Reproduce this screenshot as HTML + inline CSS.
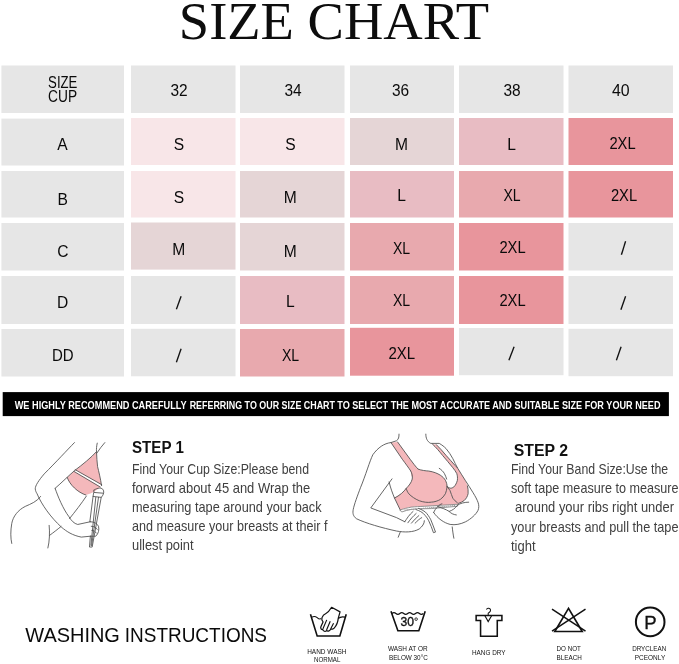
<!DOCTYPE html>
<html><head><meta charset="utf-8"><title>Size Chart</title>
<style>
html,body{margin:0;padding:0;}
body{width:679px;height:664px;position:relative;overflow:hidden;background:#fff;font-family:"Liberation Sans",sans-serif;color:#111;}
svg{position:absolute;left:0;top:0;overflow:visible;will-change:transform}
svg text{font-family:"Liberation Sans",sans-serif;fill:#0a0a0a;}
svg text.p{fill:#404040;}
svg text.b{font-weight:bold;fill:#111;}
svg text.w{font-weight:bold;fill:#fff;}
svg text.t{font-family:"Liberation Serif",serif;fill:#0d0d0d;}
svg text.k{fill:#111;}
svg text.ks{fill:#111;stroke:#111;stroke-width:.35px;}
</style></head><body>
<svg width="679" height="664" viewBox="0 0 679 664">
<rect x="1.4" y="65.5" width="122.6" height="47.5" fill="#e6e6e6"/>
<rect x="131" y="65.5" width="104.5" height="47.5" fill="#e6e6e6"/>
<rect x="240" y="65.5" width="104.5" height="47.5" fill="#e6e6e6"/>
<rect x="350" y="65.5" width="104" height="47.5" fill="#e6e6e6"/>
<rect x="459" y="65.5" width="104.5" height="47.5" fill="#e6e6e6"/>
<rect x="568.5" y="65.5" width="104.5" height="47.5" fill="#e6e6e6"/>
<rect x="1.4" y="118.6" width="122.6" height="46.9" fill="#e6e6e6"/>
<rect x="131" y="118" width="104.5" height="47" fill="#f8e6e8"/>
<rect x="240" y="118" width="104.5" height="47" fill="#f8e6e8"/>
<rect x="350" y="118" width="104" height="47" fill="#e5d5d6"/>
<rect x="459" y="118" width="104.5" height="47" fill="#e8bcc3"/>
<rect x="568.5" y="118" width="104.5" height="47" fill="#e8959c"/>
<rect x="1.4" y="171" width="122.6" height="46.5" fill="#e6e6e6"/>
<rect x="131" y="171" width="104.5" height="46.5" fill="#f8e6e8"/>
<rect x="240" y="171" width="104.5" height="46.5" fill="#e5d5d6"/>
<rect x="350" y="171" width="104" height="46.5" fill="#e8bcc3"/>
<rect x="459" y="171" width="104.5" height="46.5" fill="#e8a9ae"/>
<rect x="568.5" y="171" width="104.5" height="46.5" fill="#e8959c"/>
<rect x="1.4" y="223" width="122.6" height="47.5" fill="#e6e6e6"/>
<rect x="131" y="222.5" width="104.5" height="47.1" fill="#e5d5d6"/>
<rect x="240" y="223" width="104.5" height="47.5" fill="#e5d5d6"/>
<rect x="350" y="223" width="104" height="47.5" fill="#e8a9ae"/>
<rect x="459" y="223" width="104.5" height="47.5" fill="#e8959c"/>
<rect x="568.5" y="223" width="104.5" height="47.5" fill="#e6e6e6"/>
<rect x="1.4" y="276" width="122.6" height="48" fill="#e6e6e6"/>
<rect x="131" y="276" width="104.5" height="48" fill="#e6e6e6"/>
<rect x="240" y="276" width="104.5" height="48" fill="#e8bcc3"/>
<rect x="350" y="276" width="104" height="48" fill="#e8a9ae"/>
<rect x="459" y="276" width="104.5" height="48" fill="#e8959c"/>
<rect x="568.5" y="276" width="104.5" height="48" fill="#e6e6e6"/>
<rect x="1.4" y="329" width="122.6" height="47.5" fill="#e6e6e6"/>
<rect x="131" y="328.8" width="104.5" height="47.5" fill="#e6e6e6"/>
<rect x="240" y="329" width="104.5" height="47.5" fill="#e8a9ae"/>
<rect x="350" y="327.8" width="104" height="47.9" fill="#e8959c"/>
<rect x="459" y="328" width="104.5" height="47.2" fill="#e6e6e6"/>
<rect x="568.5" y="328.8" width="104.5" height="47.4" fill="#e6e6e6"/>
<rect x="2.7" y="392.1" width="666.2" height="24" fill="#000"/>
</svg>

<svg width="679" height="664" viewBox="0 0 679 664">
<g transform="translate(0,435) scale(0.18072)" fill="none" stroke="#4a4a4a" stroke-width="4.6" stroke-linecap="round" stroke-linejoin="round">
<!-- illustration 1 -->
<path d="M534,92 C505,125 455,165 415,195 L372,235 C385,275 430,318 475,332 C510,325 540,305 562,280 C556,240 546,200 540,175 C537,150 535,120 534,92 Z" fill="#f4b8bb" stroke="none"/>
<path d="M416,192 L563,275 L557,288 L410,202 Z" fill="#fff" stroke="none"/>
<path d="M412,42 C370,85 310,150 245,215 C215,250 195,280 195,298 C197,312 201,318 205,325 C230,385 280,455 340,510 C370,535 400,555 450,565 L500,560"/>
<path d="M305,295 C320,340 350,410 380,450 C395,475 410,490 430,495 L500,480"/>
<path d="M305,295 C340,265 380,225 415,195 C455,165 505,125 534,92"/>
<path d="M372,235 C385,275 430,318 475,332"/>
<path d="M416,192 L563,275 M410,202 L555,288"/>
<path d="M538,45 C534,62 533,78 534,92 C535,120 537,150 540,175 C546,200 556,240 562,280"/>
<path d="M580,42 C565,60 548,80 536,100"/>
<path d="M225,340 C205,368 170,382 140,395 C100,415 72,450 65,490 C58,530 58,570 65,600"/>
<path d="M478,338 C450,380 415,425 385,462"/>
<path d="M338,506 C315,525 295,540 275,555"/>
<path d="M272,500 C276,540 274,590 265,625"/>
<path d="M500,480 C520,480 538,490 545,505 C550,525 545,545 530,560 L500,560"/>
<path d="M505,505 C520,505 532,512 538,522 M508,528 C520,528 528,534 532,542"/>
<path d="M520,305 C540,290 565,290 572,305 C578,320 570,335 560,345 L510,620 L495,620 L500,560"/>
<path d="M497,480 L515,340 C518,320 520,312 520,305"/>
<path d="M530,345 L503,610 M545,345 L507,612"/>
<path d="M515,340 L560,345 M522,318 L570,322"/>
</g>
<g transform="translate(345,430) scale(0.20619)" fill="none" stroke="#4a4a4a" stroke-width="4.1" stroke-linecap="round" stroke-linejoin="round">
<!-- illustration 2 -->
<path d="M223,61 L255,58 L316,142 C330,160 342,178 355,190 L370,215 L322,225 L319,199 C310,185 295,165 278,142 Z" fill="#f4b8bb" stroke="none"/>
<path d="M240,330 C265,318 285,300 297,283 L310,310 L360,343 L419,350 L462,337 L487,309 L495,274 L509,293 L523,331 L545,353 L550,356 L548,360 L387,370 C360,371 340,372 322,374 C300,378 285,382 268,388 Z" fill="#f4b8bb" stroke="none"/>
<path d="M424,68 L443,71 C460,87 475,105 490,123 C505,140 520,156 534,172 L545,183 C558,205 571,224 583,244 C587,253 590,262 594,271 C597,283 598,296 597,309 C594,322 588,333 578,342 C570,348 560,353 550,356 L545,353 C537,348 530,340 523,331 C518,319 514,306 509,293 L495,274 C499,277 504,280 509,282 C515,283 522,281 528,276 C536,268 541,258 545,244 C546,233 546,222 542,211 C537,201 530,192 523,183 C507,163 490,143 473,123 C458,104 442,85 424,68 Z" fill="#f4b8bb" stroke="none"/>
<path d="M262,20 C262,35 260,45 250,52 L223,61 C190,65 160,85 135,120 C120,150 100,220 75,280 C60,320 45,360 40,385 C36,405 40,418 55,430 C100,452 180,475 250,490 C290,497 330,497 360,480 C375,468 385,455 385,440"/>
<path d="M392,20 C392,40 398,55 416,65 L457,65 C470,72 482,82 490,90 C503,105 514,122 523,139 C531,155 538,170 545,183 C558,205 571,224 583,244 C596,264 609,284 621,304 C632,322 641,338 646,353 C650,366 650,378 645,390 C635,410 610,432 585,445 C560,457 535,462 510,458 C480,450 450,430 430,400"/>
<path d="M223,61 L278,142 C295,165 310,185 319,199 M255,58 L316,142 C330,160 342,178 355,190"/>
<path d="M355,190 C372,196 390,198 406,199 C430,203 448,210 462,219 C474,227 482,235 487,244 C492,254 495,264 495,274 C494,287 491,299 487,309 C481,320 472,330 462,337 C450,344 435,349 419,350 C400,353 380,350 360,343 C340,335 322,322 310,310 C303,301 299,292 297,283 C310,270 322,255 326,238 C328,225 326,212 319,199" fill="#f4b8bb"/>
<path d="M424,68 C442,85 458,104 473,123 C490,143 507,163 523,183 C530,192 537,201 542,211 C546,222 546,233 545,244 C541,258 536,268 528,276 C522,281 515,283 509,282 C504,280 499,277 495,274"/>
<path d="M443,71 C460,87 475,105 490,123 C505,140 520,156 534,172 L545,183"/>
<path d="M495,274 L509,293 C514,306 518,319 523,331 C530,340 537,348 545,353"/>
<path d="M594,271 C597,283 598,296 597,309 C594,322 588,333 578,342 C570,348 560,353 550,356"/>
<path d="M457,186 C468,193 476,201 482,211 C487,220 490,229 493,238"/>
<path d="M228,237 L125,378 L250,425 L290,445"/>
<path d="M214,252 C220,280 230,305 240,330 L268,388"/>
<path d="M240,330 C265,318 285,300 297,283"/>
<path d="M268,495 L258,520 M520,470 C522,490 525,510 528,525"/>
<path d="M268,388 C285,382 300,378 322,374 C340,372 360,371 387,370 L548,360 L545,370 L419,381 C380,382 345,382 322,385 C305,388 290,392 277,397 Z" fill="#fff" stroke="#666" stroke-width="3.4"/>
<path d="M290,388 L532,366" stroke="#999" stroke-width="5" stroke-dasharray="3 7"/>
<path d="M345,386 C362,392 372,398 380,405 C392,417 400,428 406,440 C415,458 422,478 429,498 L439,495 C432,475 424,455 416,435 C408,420 400,408 390,398 C380,390 368,384 356,380" fill="#fff"/>
<path d="M290,445 C300,430 310,412 330,395 M305,450 C318,432 330,418 345,405 M322,452 C335,438 345,425 358,415 M340,452 C352,440 362,430 372,425"/>
<path d="M430,400 C435,390 440,380 450,372 C470,378 490,385 505,395 C520,390 535,380 545,365 C560,355 580,350 600,350 M450,372 C455,365 462,360 470,358 M505,395 C515,405 525,410 540,412"/>
</g>
</svg>

<svg width="679" height="664" viewBox="0 0 679 664">
<g transform="translate(295,598) scale(0.10309)" fill="none" stroke="#111" stroke-width="15.5" stroke-linecap="butt" stroke-linejoin="miter">
<!-- hand wash -->
<path d="M150,158 L215,368 L435,368 L497,158"/>
<path d="M160,188 C180,175 200,178 215,190 C228,202 240,208 255,200 M418,200 C435,185 460,180 485,186" stroke-width="11"/>
<path d="M355,90 L437,135 L420,195 C416,235 402,268 380,292 C370,304 355,306 348,298 C340,318 320,328 306,316 C294,328 274,324 270,307 C256,308 244,295 252,276 L272,232 C262,222 256,208 262,190 C270,168 285,157 300,150 C325,138 340,115 355,90 Z" stroke-width="12" stroke-linejoin="round" fill="#fff"/>
<path d="M308,212 L270,300 M342,226 L306,310 M374,244 L348,296" stroke-width="11"/>
</g>
<g transform="translate(375,598) scale(0.10309)" fill="none" stroke="#111" stroke-width="15.5">
<!-- wash 30 -->
<path d="M155,128 L222,318 L425,318 L487,128"/>
<path d="M165,150 q19,-17 38,0 t38,0 t38,0 t38,0 t38,0 t38,0 t38,0 t38,0" stroke-width="12"/>
<circle cx="399" cy="205" r="12.5" stroke-width="8"/>
</g>
<g transform="translate(455,598) scale(0.10309)" fill="none" stroke="#111" stroke-width="15">
<!-- hang dry -->
<path d="M205,170 L455,170 L455,218 L410,218 L410,372 L248,372 L248,218 L205,218 Z"/>
<path d="M290,172 L322,228 L355,172" stroke-width="11"/>
<path d="M322,170 L322,148 C345,135 350,118 340,106 C330,96 312,98 305,112" stroke-width="10"/>
</g>
<g transform="translate(535,598) scale(0.10309)" fill="none" stroke="#111" stroke-width="16" stroke-linejoin="miter">
<!-- do not bleach -->
<path d="M325,100 L192,325 L458,325 Z"/>
<path d="M165,108 L490,322 M490,108 L165,322" stroke-width="14.5"/>
</g>
<circle cx="650.2" cy="621.9" r="14.3" fill="none" stroke="#111" stroke-width="2"/>
</svg>

<svg width="679" height="664" viewBox="0 0 679 664">
<text class="t" x="178.8" y="38.9" font-size="53.8" textLength="310.4" lengthAdjust="spacingAndGlyphs">SIZE CHART</text>
<text x="62.75" y="88.2" font-size="15.6" text-anchor="middle" textLength="29.3" lengthAdjust="spacingAndGlyphs">SIZE</text>
<text x="62.6" y="102.4" font-size="15.6" text-anchor="middle" textLength="29.0" lengthAdjust="spacingAndGlyphs">CUP</text>
<text x="179.0" y="96" font-size="15.6" text-anchor="middle" textLength="17.2" lengthAdjust="spacingAndGlyphs">32</text>
<text x="293.0" y="96" font-size="15.6" text-anchor="middle" textLength="17.2" lengthAdjust="spacingAndGlyphs">34</text>
<text x="400.5" y="96" font-size="15.6" text-anchor="middle" textLength="17.2" lengthAdjust="spacingAndGlyphs">36</text>
<text x="512.0" y="96" font-size="15.6" text-anchor="middle" textLength="17.2" lengthAdjust="spacingAndGlyphs">38</text>
<text x="620.75" y="96" font-size="15.6" text-anchor="middle" textLength="17.7" lengthAdjust="spacingAndGlyphs">40</text>
<text x="62.5" y="150" font-size="15.6" text-anchor="middle">A</text>
<text x="179.0" y="150" font-size="15.6" text-anchor="middle">S</text>
<text x="290.5" y="150" font-size="15.6" text-anchor="middle">S</text>
<text x="401.5" y="150" font-size="15.6" text-anchor="middle">M</text>
<text x="511.5" y="150" font-size="15.6" text-anchor="middle">L</text>
<text x="622.5" y="149" font-size="15.6" text-anchor="middle" textLength="26.2" lengthAdjust="spacingAndGlyphs">2XL</text>
<text x="62.75" y="204.5" font-size="15.6" text-anchor="middle">B</text>
<text x="179.0" y="202.5" font-size="15.6" text-anchor="middle">S</text>
<text x="290.25" y="203" font-size="15.6" text-anchor="middle">M</text>
<text x="401.5" y="201" font-size="15.6" text-anchor="middle">L</text>
<text x="512.0" y="201" font-size="15.6" text-anchor="middle" textLength="17.2" lengthAdjust="spacingAndGlyphs">XL</text>
<text x="624.0" y="201" font-size="15.6" text-anchor="middle" textLength="26.2" lengthAdjust="spacingAndGlyphs">2XL</text>
<text x="63.0" y="257" font-size="15.6" text-anchor="middle">C</text>
<text x="178.75" y="254.5" font-size="15.6" text-anchor="middle">M</text>
<text x="290.25" y="256.5" font-size="15.6" text-anchor="middle">M</text>
<text x="401.5" y="254" font-size="15.6" text-anchor="middle" textLength="17.2" lengthAdjust="spacingAndGlyphs">XL</text>
<text x="512.5" y="252.5" font-size="15.6" text-anchor="middle" textLength="26.2" lengthAdjust="spacingAndGlyphs">2XL</text>
<text x="62.75" y="308" font-size="15.6" text-anchor="middle">D</text>
<text x="290.25" y="307" font-size="15.6" text-anchor="middle">L</text>
<text x="401.5" y="306" font-size="15.6" text-anchor="middle" textLength="17.2" lengthAdjust="spacingAndGlyphs">XL</text>
<text x="512.5" y="305.5" font-size="15.6" text-anchor="middle" textLength="26.2" lengthAdjust="spacingAndGlyphs">2XL</text>
<text x="62.75" y="361" font-size="15.6" text-anchor="middle" textLength="21.7" lengthAdjust="spacingAndGlyphs">DD</text>
<text x="290.5" y="360.5" font-size="15.6" text-anchor="middle" textLength="17.2" lengthAdjust="spacingAndGlyphs">XL</text>
<text x="401.75" y="359" font-size="15.6" text-anchor="middle" textLength="26.7" lengthAdjust="spacingAndGlyphs">2XL</text>
<g stroke="#111" stroke-width="1.35"><line x1="621.4" y1="254.7" x2="625.6" y2="241.3"/><line x1="176.4" y1="309.2" x2="181.1" y2="296.3"/><line x1="620.9" y1="309.7" x2="625.6" y2="296.3"/><line x1="176.4" y1="362.2" x2="181.1" y2="348.8"/><line x1="508.9" y1="360.2" x2="514.1" y2="346.8"/><line x1="616.4" y1="360.2" x2="621.1" y2="346.8"/></g>
<text class="w" x="14.7" y="409" font-size="11.3" textLength="172.0" lengthAdjust="spacingAndGlyphs">WE HIGHLY RECOMMEND CAREFULLY</text>
<text class="w" x="189.7" y="409" font-size="11.3" textLength="145.3" lengthAdjust="spacingAndGlyphs">REFERRING TO OUR SIZE CHART</text>
<text class="w" x="337.3" y="409" font-size="11.3" textLength="152.9" lengthAdjust="spacingAndGlyphs">TO SELECT THE MOST ACCURATE</text>
<text class="w" x="492.2" y="409" font-size="11.3" textLength="168.3" lengthAdjust="spacingAndGlyphs">AND SUITABLE SIZE FOR YOUR NEED</text>
<text class="b" x="132" y="453.3" font-size="16.8" textLength="51.8" lengthAdjust="spacingAndGlyphs">STEP 1</text>
<text class="b" x="513.7" y="455.6" font-size="16.8" textLength="54.3" lengthAdjust="spacingAndGlyphs">STEP 2</text>
<text class="p" x="132" y="473.7" font-size="14.4" textLength="177" lengthAdjust="spacingAndGlyphs">Find Your Cup Size:Please bend</text>
<text class="p" x="132" y="492.6" font-size="14.4" textLength="178.2" lengthAdjust="spacingAndGlyphs">forward about 45 and Wrap the</text>
<text class="p" x="132" y="511.7" font-size="14.4" textLength="189.6" lengthAdjust="spacingAndGlyphs">measuring tape around your back</text>
<text class="p" x="132" y="530.8" font-size="14.4" textLength="195.4" lengthAdjust="spacingAndGlyphs">and measure your breasts at their f</text>
<text class="p" x="132" y="549.9" font-size="14.4" textLength="61.6" lengthAdjust="spacingAndGlyphs">ullest point</text>
<text class="p" x="511" y="473.8" font-size="14.4" textLength="157.2" lengthAdjust="spacingAndGlyphs">Find Your Band Size:Use the</text>
<text class="p" x="511" y="493.3" font-size="14.4" textLength="167.5" lengthAdjust="spacingAndGlyphs">soft tape measure to measure</text>
<text class="p" x="515" y="512.3" font-size="14.4" textLength="159" lengthAdjust="spacingAndGlyphs">around your ribs right under</text>
<text class="p" x="511" y="531.5" font-size="14.4" textLength="167.5" lengthAdjust="spacingAndGlyphs">your breasts and pull the tape</text>
<text class="p" x="511" y="550.5" font-size="14.4" textLength="24.6" lengthAdjust="spacingAndGlyphs">tight</text>
<text x="25.3" y="642.2" font-size="20.8" textLength="94.6" lengthAdjust="spacingAndGlyphs">WASHING</text>
<text x="124.8" y="642.2" font-size="20.8" textLength="142.2" lengthAdjust="spacingAndGlyphs">INSTRUCTIONS</text>
<text class="k" x="307.2" y="654.2" font-size="6.6" textLength="39.3" lengthAdjust="spacingAndGlyphs">HAND WASH</text>
<text class="k" x="314" y="662.4" font-size="6.6" textLength="26.4" lengthAdjust="spacingAndGlyphs">NORMAL</text>
<text class="k" x="387.9" y="651.1" font-size="6.6" textLength="39.7" lengthAdjust="spacingAndGlyphs">WASH AT OR</text>
<text class="k" x="388.9" y="659.6" font-size="6.6" textLength="38.9" lengthAdjust="spacingAndGlyphs">BELOW 30°C</text>
<text class="k" x="472" y="655" font-size="6.6" textLength="33.5" lengthAdjust="spacingAndGlyphs">HANG DRY</text>
<text class="k" x="556.6" y="651.1" font-size="6.6" textLength="24.3" lengthAdjust="spacingAndGlyphs">DO NOT</text>
<text class="k" x="556.6" y="659.6" font-size="6.6" textLength="25.3" lengthAdjust="spacingAndGlyphs">BLEACH</text>
<text class="k" x="632.2" y="651.1" font-size="6.6" textLength="34.0" lengthAdjust="spacingAndGlyphs">DRYCLEAN</text>
<text class="k" x="634.8" y="659.6" font-size="6.6" textLength="30.4" lengthAdjust="spacingAndGlyphs">PCEONLY</text>
<text class="ks" x="400.5" y="625.6" font-size="12" textLength="13.5" lengthAdjust="spacingAndGlyphs">30</text>
<text class="ks" x="644.2" y="629.4" font-size="19" textLength="12.4" lengthAdjust="spacingAndGlyphs">P</text>
</svg>
</body></html>
